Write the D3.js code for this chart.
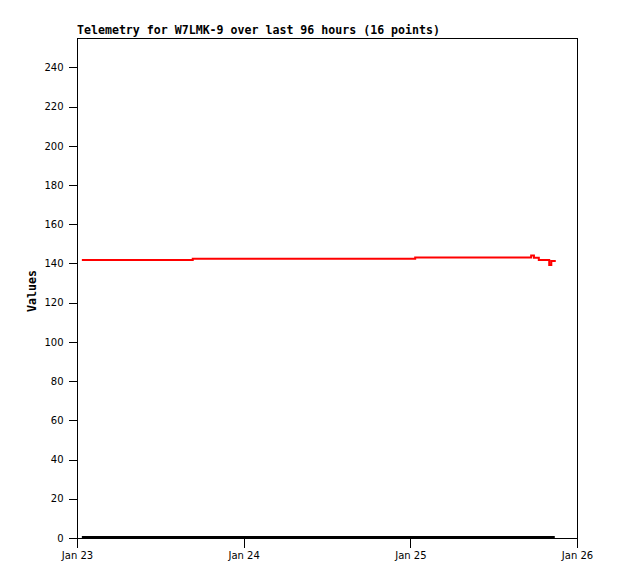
<!DOCTYPE html>
<html><head><meta charset="utf-8">
<script src="https://cdn.jsdelivr.net/npm/d3@7"></script>
<style>body{margin:0;background:#fff}</style>
</head><body>
<script>
const title = "Telemetry for W7LMK-9 over last 96 hours (16 points)";
const yLabel = "Values";
const times = ["2025-01-23T00:42","2025-01-23T04:00","2025-01-23T08:00","2025-01-23T16:40",
  "2025-01-24T00:30","2025-01-24T08:30","2025-01-24T16:30","2025-01-25T00:42",
  "2025-01-25T08:00","2025-01-25T12:00","2025-01-25T17:24","2025-01-25T17:48",
  "2025-01-25T18:30","2025-01-25T20:00","2025-01-25T20:18","2025-01-25T20:48"];
const seriesRed = [141.8,141.8,141.8,142.4,142.4,142.4,142.4,143.0,143.0,143.0,144.1,142.9,141.8,139.2,141.3,141.8];
const seriesBlack = [0,0,0,0,0,0,0,0,0,0,0,0,0,0,0,0];
const xTickLabels = ["Jan 23","Jan 24","Jan 25","Jan 26"];
const xTickDates = ["2025-01-23T00:00","2025-01-24T00:00","2025-01-25T00:00","2025-01-26T00:00"];
const yTicks = [0,20,40,60,80,100,120,140,160,180,200,220,240];

const W=618,H=579, L=77,R=577,T=38,B=538;
const parse = d3.timeParse("%Y-%m-%dT%H:%M");
const svg = d3.select("body").append("svg").attr("width",W).attr("height",H);
const x = d3.scaleTime().domain([parse(xTickDates[0]), parse(xTickDates[3])]).range([L,R]);
const y = d3.scaleLinear().domain([0,255]).range([B,T]);

// frame
svg.append("rect").attr("x",L+0.5).attr("y",T+0.5).attr("width",R-L).attr("height",B-T)
  .attr("fill","none").attr("stroke","#000").attr("stroke-width",1).attr("shape-rendering","crispEdges");

const yAxis = d3.axisLeft(y).tickValues(yTicks).tickSize(9).tickPadding(5);
const gy = svg.append("g").attr("transform",`translate(${L+0.5},0)`).call(yAxis);
gy.select(".domain").remove();
gy.selectAll("text").attr("font-family","DejaVu Sans").attr("font-size","10px").attr("fill","#000");
gy.selectAll("line").attr("shape-rendering","crispEdges");

const xAxis = d3.axisBottom(x).tickValues(xTickDates.map(parse)).tickFormat((d,i)=>xTickLabels[i]).tickSize(9).tickPadding(4);
const gx = svg.append("g").attr("transform",`translate(0,${B+0.5})`).call(xAxis);
gx.select(".domain").remove();
gx.selectAll("text").attr("font-family","DejaVu Sans").attr("font-size","10px").attr("fill","#000");
gx.selectAll("line").attr("shape-rendering","crispEdges");

const dataRed = times.map((t,i)=>({t:parse(t),v:seriesRed[i]}));
const dataBlack = times.map((t,i)=>({t:parse(t),v:seriesBlack[i]}));
const line = d3.line().x(d=>x(d.t)).y(d=>y(d.v)).curve(d3.curveStepAfter);

svg.append("path").datum(dataBlack).attr("d",line).attr("fill","none").attr("stroke","#000").attr("stroke-width",2)
  .attr("transform","translate(0,-1)");
svg.append("path").datum(dataRed).attr("d",line).attr("fill","none").attr("stroke","#ff0000").attr("stroke-width",2);

svg.append("text").attr("x",L).attr("y",34).text(title)
  .attr("font-family","DejaVu Sans Mono").attr("font-weight","bold").attr("font-size","11.6px");
svg.append("text").attr("transform",`translate(36,291) rotate(-90)`).attr("text-anchor","middle").text(yLabel)
  .attr("font-family","DejaVu Sans Mono").attr("font-weight","bold").attr("font-size","11.6px");
</script>
</body></html>
